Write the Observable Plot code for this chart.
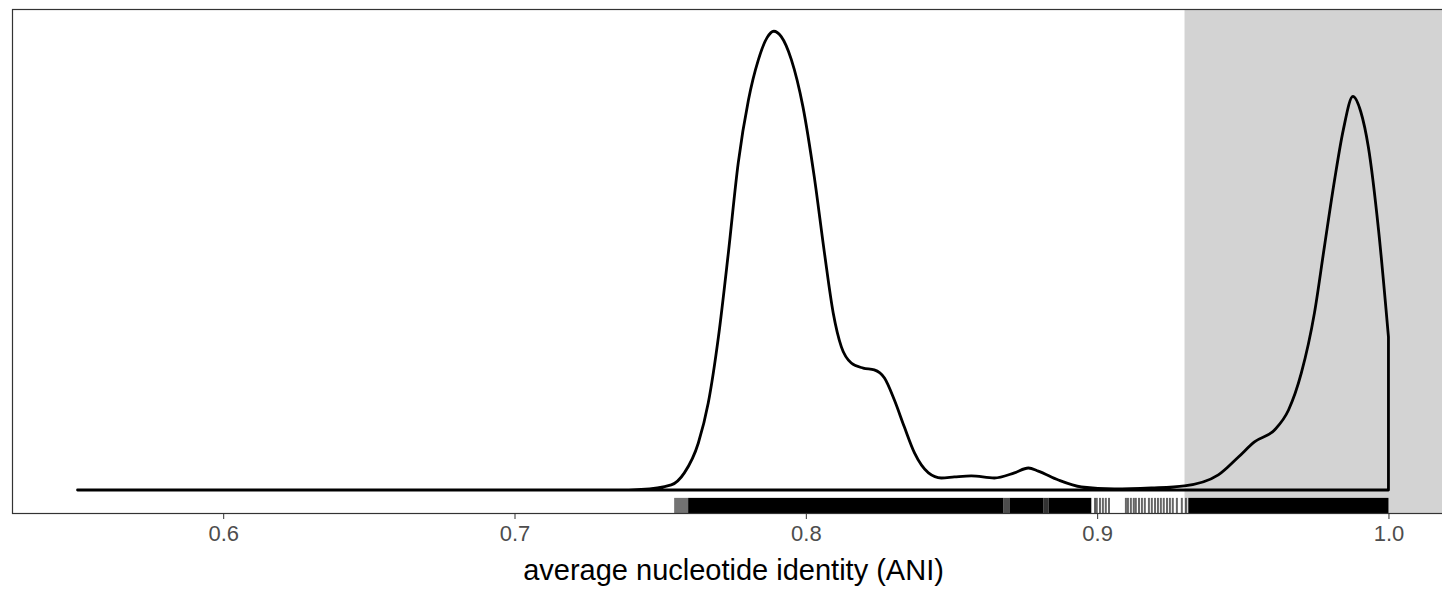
<!DOCTYPE html>
<html>
<head>
<meta charset="utf-8">
<script src="https://cdn.jsdelivr.net/npm/d3@7"></script>
<script src="https://cdn.jsdelivr.net/npm/@observablehq/plot@0.6"></script>
<style>
html, body { margin: 0; padding: 0; overflow: hidden; background: #fff; }
#chart svg { display: block; max-width: none !important; }
</style>
</head>
<body>
<div id="chart"></div>
<script>
// Density curve of ANI
const ani = [0.55, 0.70, 0.735, 0.7435, 0.7538, 0.7583, 0.7631, 0.7665, 0.7700, 0.7734, 0.7768, 0.7803, 0.7837, 0.7867, 0.7890, 0.7915, 0.7950, 0.7990, 0.8029, 0.8064, 0.8094, 0.8122, 0.8156, 0.8197, 0.8235, 0.8270, 0.8304, 0.8338, 0.8373, 0.8421, 0.8465, 0.8510, 0.8568, 0.8647, 0.8716, 0.8764, 0.8798, 0.8867, 0.8946, 0.9059, 0.9186, 0.9300, 0.9416, 0.9485, 0.9540, 0.9609, 0.9657, 0.9701, 0.9746, 0.9780, 0.9815, 0.9845, 0.9878, 0.9905, 0.9931, 0.9966, 1.0];
const density = [0, 0, 0, 0.02, 0.20, 0.67, 1.84, 3.40, 5.99, 9.27, 12.80, 15.26, 16.83, 17.70, 17.95, 17.75, 16.85, 15.00, 12.25, 9.27, 6.93, 5.60, 4.97, 4.77, 4.70, 4.38, 3.52, 2.47, 1.45, 0.67, 0.47, 0.51, 0.55, 0.47, 0.67, 0.86, 0.74, 0.39, 0.12, 0.04, 0.08, 0.16, 0.59, 1.29, 1.88, 2.35, 3.13, 4.58, 6.93, 9.51, 12.13, 14.09, 15.40, 14.80, 13.42, 10.17, 5.99];

// Rug: dense stretches (drawn as solid bands) and sparse single observations
const rugBandStart = [0.7548, 0.7596, 0.8678, 0.8699, 0.8815, 0.8833, 0.9313];
const rugBandEnd   = [0.7596, 0.8678, 0.8699, 0.8815, 0.8833, 0.8980, 1.0];
const rugBandShade = [0.55, 1, 0.7, 1, 0.8, 1, 1];
const rugTicks = [0.8991, 0.8997, 0.9008, 0.9018, 0.9028, 0.9039, 0.9097, 0.9104, 0.9114, 0.9124, 0.9131, 0.9142, 0.9152, 0.9162, 0.9176, 0.9186, 0.9197, 0.9207, 0.9217, 0.9227, 0.9238, 0.9248, 0.9258, 0.9272, 0.9289, 0.9303];

// Highlighted region
const shadeFrom = 0.93;

const xTicks = [0.6, 0.7, 0.8, 0.9, 1.0];
const xLabel = "average nucleotide identity (ANI)";

const curve = ani.map((a, i) => ({ani: a, density: density[i]}));
const bands = rugBandStart.map((s, i) => ({x1: s, x2: rugBandEnd[i], o: rugBandShade[i]}));

const xDomain = [0.5275, 1.0225];
const yDomain = [-0.90, 18.82];
const rugTop = yDomain[0] + (yDomain[1] - yDomain[0]) * 0.03;

const plot = Plot.plot({
  width: 1454,
  height: 590,
  marginLeft: 12,
  marginRight: 0,
  marginTop: 9,
  marginBottom: 77,
  style: {fontFamily: "'Liberation Sans', Arial, sans-serif", background: "#fff", maxWidth: "none"},
  x: {domain: xDomain, ticks: xTicks, tickFormat: d3.format(".1f")},
  y: {domain: yDomain, axis: null},
  marks: [
    Plot.rect([shadeFrom], {x1: d => d, x2: xDomain[1], y1: yDomain[0], y2: yDomain[1], fill: "#d3d3d3"}),
    Plot.areaY(curve, {x: "ani", y: "density", curve: "monotone-x", fill: "none", stroke: "#000", strokeWidth: 2.8}),
    Plot.rect(bands, {x1: "x1", x2: "x2", y1: yDomain[0], y2: rugTop, fill: "#000", fillOpacity: "o"}),
    Plot.ruleX(rugTicks, {x: d => d, y1: yDomain[0], y2: rugTop, stroke: "#000", strokeOpacity: 0.6, strokeWidth: 2}),
    Plot.frame({stroke: "#333", strokeWidth: 1.2}),
    Plot.axisX({ticks: xTicks, tickFormat: d3.format(".1f"), tickSize: 6, tickPadding: 6, stroke: "#333", fill: "#4d4d4d", fontSize: 22, label: null}),
    Plot.text([xLabel], {frameAnchor: "bottom", dy: 66, x: null, text: d => d, fontSize: 29, fill: "#000"})
  ]
});
document.getElementById("chart").appendChild(plot);
</script>
</body>
</html>
